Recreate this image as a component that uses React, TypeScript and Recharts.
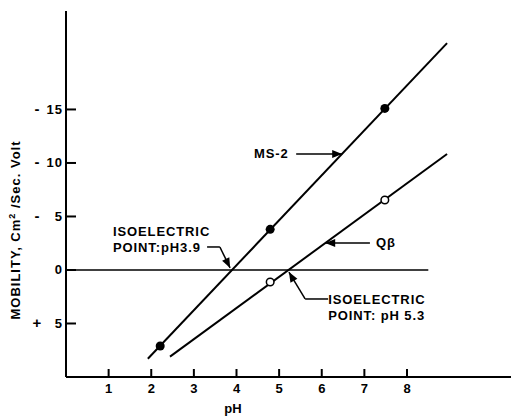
import { ComposedChart, Line, Scatter, XAxis, YAxis, ReferenceLine, ReferenceDot } from 'recharts';

// pH ticks and mobility ticks (value = -mobility, so "up" is negative mobility)
const phTicks = [1, 2, 3, 4, 5, 6, 7, 8];
const mobilityTicks = [-5, 0, 5, 10, 15];

// fitted lines
const ms2Fit = [{ ph: 1.92, v: -8.3 }, { ph: 8.94, v: 21.2 }];
const qbFit = [{ ph: 2.44, v: -8.1 }, { ph: 8.94, v: 10.84 }];

// measured points
const ms2Points = [{ ph: 2.21, v: -7.1 }, { ph: 4.79, v: 3.8 }, { ph: 7.48, v: 15.1 }];
const qbPoints = [{ ph: 4.79, v: -1.12 }, { ph: 7.48, v: 6.54 }];

// zero line extent
const zeroLine = [{ x: 0, y: 0 }, { x: 8.5, y: 0 }];

// annotation texts
const notes = [
  { ph: 4.41, v: 10.47, lines: ['MS-2'] },
  { ph: 7.27, v: 2.15, lines: ['Q\u03b2'] },
  { ph: 1.1, v: 3.18, lines: ['ISOELECTRIC', 'POINT:pH3.9'] },
  { ph: 6.15, v: -3.18, lines: ['ISOELECTRIC', 'POINT: pH 5.3'] },
];

// arrow paths, last point is the tip
const arrows = [
  { pts: [{ x: 5.4, y: 10.84 }, { x: 6.48, y: 10.84 }], angle: 0 },
  { pts: [{ x: 7.13, y: 2.52 }, { x: 6.08, y: 2.52 }], angle: 180 },
  { pts: [{ x: 3.31, y: 2.15 }, { x: 3.61, y: 2.15 }, { x: 3.85, y: 0.19 }], angle: 64 },
  { pts: [{ x: 6.15, y: -2.71 }, { x: 5.61, y: -2.71 }, { x: 5.23, y: -0.19 }], angle: 240 },
];

const font = { fontFamily: 'Liberation Sans, Arial, sans-serif', fontWeight: 700, fontSize: 13, fill: '#000' };
const tickStroke = { stroke: '#000', strokeWidth: 2 };

// native tick lines point inward (negative tickSize); text placed relative to the inner tick end
const BottomTick = ({ x, y, payload }: any) => (
  <text x={x} y={y + 24} textAnchor="middle" {...font}>{payload.value}</text>
);

const LeftTick = ({ x, y, payload }: any) => {
  const v = payload.value;
  const sign = v > 0 ? '-' : v < 0 ? '+' : '';
  return (
    <g>
      {sign && <text x={37} y={y + 4.5} textAnchor="middle" {...font} fontSize={15}>{sign}</text>}
      <text x={x - 13} y={y + 4.5} textAnchor="end" {...font} letterSpacing={1}>{Math.abs(v)}</text>
    </g>
  );
};

const NoText = () => <g />;

const Filled = ({ cx, cy }: any) => <circle cx={cx} cy={cy} r={4.5} fill="#000" />;
const Open = ({ cx, cy }: any) => <circle cx={cx} cy={cy} r={3.8} fill="#fff" stroke="#000" strokeWidth={1.5} />;

export default function App() {
  return (
    <div style={{ position: 'absolute', left: 0, top: 0, width: 514, height: 418, background: '#fff' }}>
      <ComposedChart width={514} height={418} margin={{ top: 11, right: 3, bottom: 0, left: 0 }}>
        <XAxis type="number" dataKey="ph" domain={[0, 10.44]} ticks={phTicks} allowDataOverflow interval={0}
          height={41} tickSize={-8} tickMargin={0} tickLine={tickStroke} tick={<BottomTick />}
          axisLine={{ stroke: '#000', strokeWidth: 2 }} />
        <XAxis xAxisId="t" orientation="top" type="number" dataKey="ph" domain={[0, 10.44]} ticks={phTicks} allowDataOverflow interval={0}
          height={0} tickSize={-9} tickMargin={0} tickLine={tickStroke} tick={<NoText />}
          axisLine={{ stroke: '#000', strokeWidth: 2 }} />
        <YAxis type="number" dataKey="v" domain={[-10, 24.2]} ticks={mobilityTicks} allowDataOverflow interval={0}
          width={66} tickSize={-10} tickMargin={0} tickLine={tickStroke} tick={<LeftTick />}
          axisLine={{ stroke: '#000', strokeWidth: 2 }}
          label={{
            content: () => (
              <text x={20} y={230} transform="rotate(-90 20 230)" textAnchor="middle" {...font} letterSpacing={1}>
                MOBILITY, Cm<tspan dy={-5} fontSize={9}>2</tspan><tspan dy={5}> /Sec. Volt</tspan>
              </text>
            ),
          }} />
        <YAxis yAxisId="r" orientation="right" type="number" dataKey="v" domain={[-10, 24.2]} ticks={mobilityTicks} allowDataOverflow interval={0}
          width={0} tickSize={-10} tickMargin={0} tickLine={tickStroke} tick={<NoText />}
          axisLine={{ stroke: '#000', strokeWidth: 2 }} />

        <ReferenceLine segment={zeroLine} stroke="#000" strokeWidth={1.5} />

        <Line data={ms2Fit} dataKey="v" type="linear" stroke="#000" strokeWidth={2} dot={false} isAnimationActive={false} />
        <Line data={qbFit} dataKey="v" xAxisId="t" yAxisId="r" type="linear" stroke="#000" strokeWidth={2} dot={false} isAnimationActive={false} />
        <Scatter data={ms2Points} dataKey="v" shape={<Filled />} isAnimationActive={false} />
        <Scatter data={qbPoints} dataKey="v" xAxisId="t" yAxisId="r" shape={<Open />} isAnimationActive={false} />

        {arrows.map((a, i) =>
          a.pts.slice(1).map((p, j) => (
            <ReferenceLine key={`a${i}-${j}`} segment={[a.pts[j], p]} stroke="#000" strokeWidth={1.5} />
          ))
        )}
        {arrows.map((a, i) => {
          const tip = a.pts[a.pts.length - 1];
          return (
            <ReferenceDot key={`h${i}`} x={tip.x} y={tip.y} r={1}
              shape={({ cx, cy }: any) => (
                <polygon points="0,0 -10,-4 -10,4" fill="#000"
                  transform={`translate(${cx} ${cy}) rotate(${a.angle})`} />
              )} />
          );
        })}
        {notes.map((n, i) => (
          <ReferenceDot key={`n${i}`} x={n.ph} y={n.v} r={1}
            shape={({ cx, cy }: any) => (
              <text x={cx} y={cy} {...font} letterSpacing={0.9}>
                {n.lines.map((l, k) => (
                  <tspan key={k} x={cx} dy={k === 0 ? 0 : 16}>{l}</tspan>
                ))}
              </text>
            )} />
        ))}

        <text x={233} y={413} textAnchor="middle" {...font}>pH</text>
      </ComposedChart>
    </div>
  );
}
